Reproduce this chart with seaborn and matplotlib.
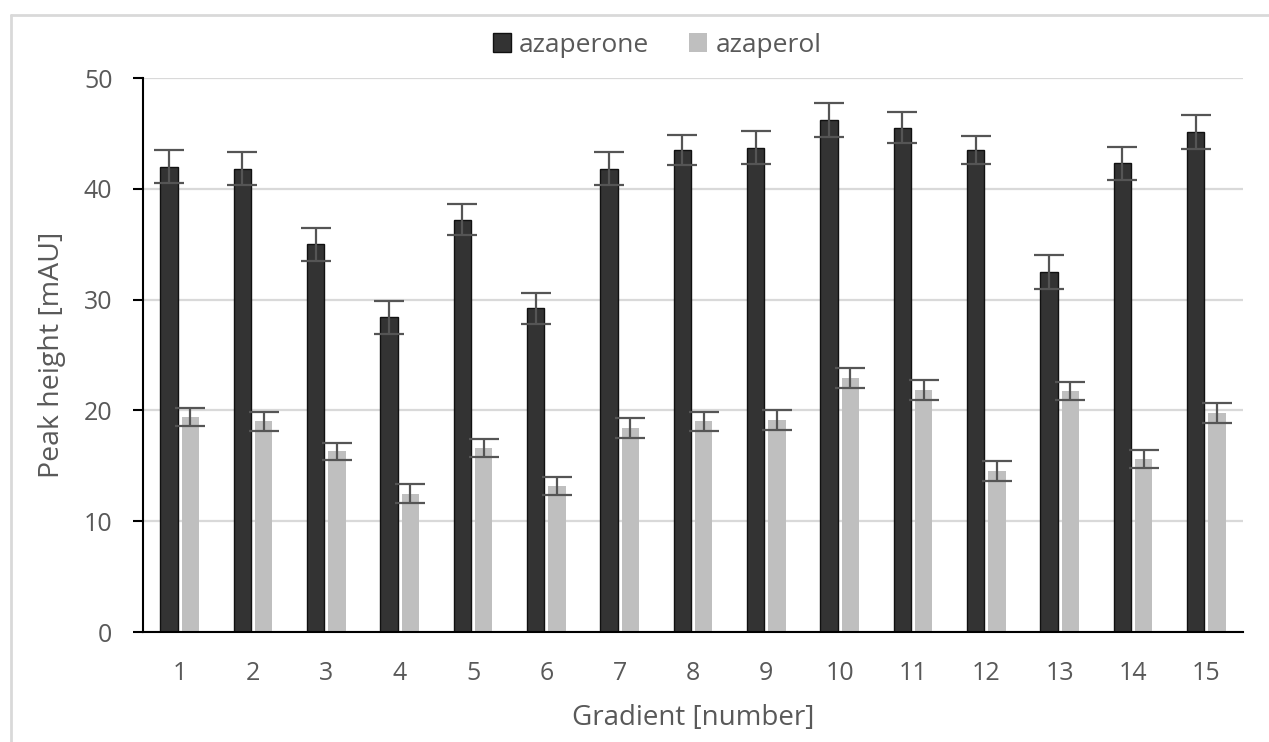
import numpy as np
import pandas as pd
import matplotlib
matplotlib.use("Agg")
import matplotlib.pyplot as plt
from matplotlib.patches import Rectangle
import seaborn as sns

# Peak heights (mean ± SD) for each gradient program
gradients = [str(i) for i in range(1, 16)]
azaperone = [42.0, 41.8, 35.0, 28.4, 37.2, 29.2, 41.8, 43.5, 43.7, 46.2, 45.5, 43.5, 32.5, 42.3, 45.1]
azaperone_sd = [1.5, 1.5, 1.5, 1.5, 1.4, 1.4, 1.5, 1.35, 1.5, 1.55, 1.4, 1.3, 1.5, 1.5, 1.55]
azaperol = [19.4, 19.0, 16.3, 12.5, 16.6, 13.2, 18.4, 19.0, 19.1, 22.9, 21.8, 14.5, 21.75, 15.6, 19.8]
azaperol_sd = [0.85, 0.85, 0.8, 0.9, 0.85, 0.8, 0.9, 0.85, 0.9, 0.9, 0.9, 0.9, 0.8, 0.8, 0.9]
compounds = ["azaperone", "azaperol"]
y_ticks = [0, 10, 20, 30, 40, 50]

df = pd.DataFrame({
    "gradient": gradients * 2,
    "height": azaperone + azaperol,
    "sd": azaperone_sd + azaperol_sd,
    "compound": [compounds[0]] * 15 + [compounds[1]] * 15,
})

sns.set_style("white")
plt.rcParams["font.family"] = ["Open Sans", "DejaVu Sans"]
text_color = "#595959"

W, H = 1269, 742
fig = plt.figure(figsize=(W / 100, H / 100), dpi=100)
ax = fig.add_axes([143 / W, 1 - 632 / H, 1100 / W, 554 / H])

palette = {"azaperone": "#333333", "azaperol": "#BFBFBF"}
sns.barplot(data=df, x="gradient", y="height", hue="compound", order=gradients,
            hue_order=compounds, palette=palette, width=0.584, gap=0.19,
            errorbar=None, ax=ax, legend=False, zorder=2, saturation=1)

# error bars at each bar centre
sds = [azaperone_sd, azaperol_sd]
for cont, sd in zip(ax.containers, sds):
    xs = [p.get_x() + p.get_width() / 2 for p in cont.patches]
    ys = [p.get_height() for p in cont.patches]
    ax.errorbar(xs, ys, yerr=sd, fmt="none", ecolor="#555555", elinewidth=1.6,
                capsize=10.5, capthick=1.6, zorder=3)

for p in ax.containers[0].patches:
    p.set_edgecolor("#111111")
    p.set_linewidth(1.0)
for p in ax.containers[1].patches:
    p.set_edgecolor("none")

ax.set_xlim(-0.5, 14.5)
ax.set_ylim(0, 50)
ax.set_yticks(y_ticks)
ax.set_yticklabels([str(v) for v in y_ticks])
ax.set_xticks(np.arange(15))
ax.set_xticklabels(gradients)
ax.set_xticks(np.arange(-0.5, 15, 1), minor=True)

ax.yaxis.grid(True, color="#D9D9D9", linewidth=1.6, zorder=0)
ax.set_axisbelow(True)
for side in ["top", "right"]:
    ax.spines[side].set_visible(False)
for side in ["left", "bottom"]:
    ax.spines[side].set_color("black")
    ax.spines[side].set_linewidth(1.5)

ax.tick_params(axis="x", which="major", length=0, pad=21, labelsize=18, labelcolor=text_color)
ax.tick_params(axis="x", which="minor", length=7, width=1.5, color="black", direction="out")
ax.tick_params(axis="y", which="major", length=7, width=1.5, color="black", direction="out",
               left=True, pad=15, labelsize=18, labelcolor=text_color)

ax.set_xlabel("Gradient [number]", fontsize=20, color=text_color, labelpad=13)
ax.set_ylabel("Peak height [mAU]", fontsize=20.5, color=text_color, labelpad=13)

# legend above the plot area
handles = [Rectangle((0, 0), 1, 1, facecolor=palette["azaperone"], edgecolor="#111111", linewidth=1),
           Rectangle((0, 0), 1, 1, facecolor=palette["azaperol"], edgecolor="none")]
fig.legend(handles, compounds, loc="center", bbox_to_anchor=(657 / W, 1 - 45 / H), ncol=2,
           frameon=False, fontsize=19, labelcolor=text_color, handlelength=0.7,
           handleheight=0.75, handletextpad=0.3, columnspacing=1.5)

# light outer chart border (top and left edges)
fig.add_artist(plt.Line2D([11 / W, 1], [1 - 15 / H, 1 - 15 / H], color="#D9D9D9", linewidth=2,
                          transform=fig.transFigure))
fig.add_artist(plt.Line2D([11 / W, 11 / W], [0, 1 - 15 / H], color="#D9D9D9", linewidth=2,
                          transform=fig.transFigure))

fig.savefig("out.png", dpi=100)
